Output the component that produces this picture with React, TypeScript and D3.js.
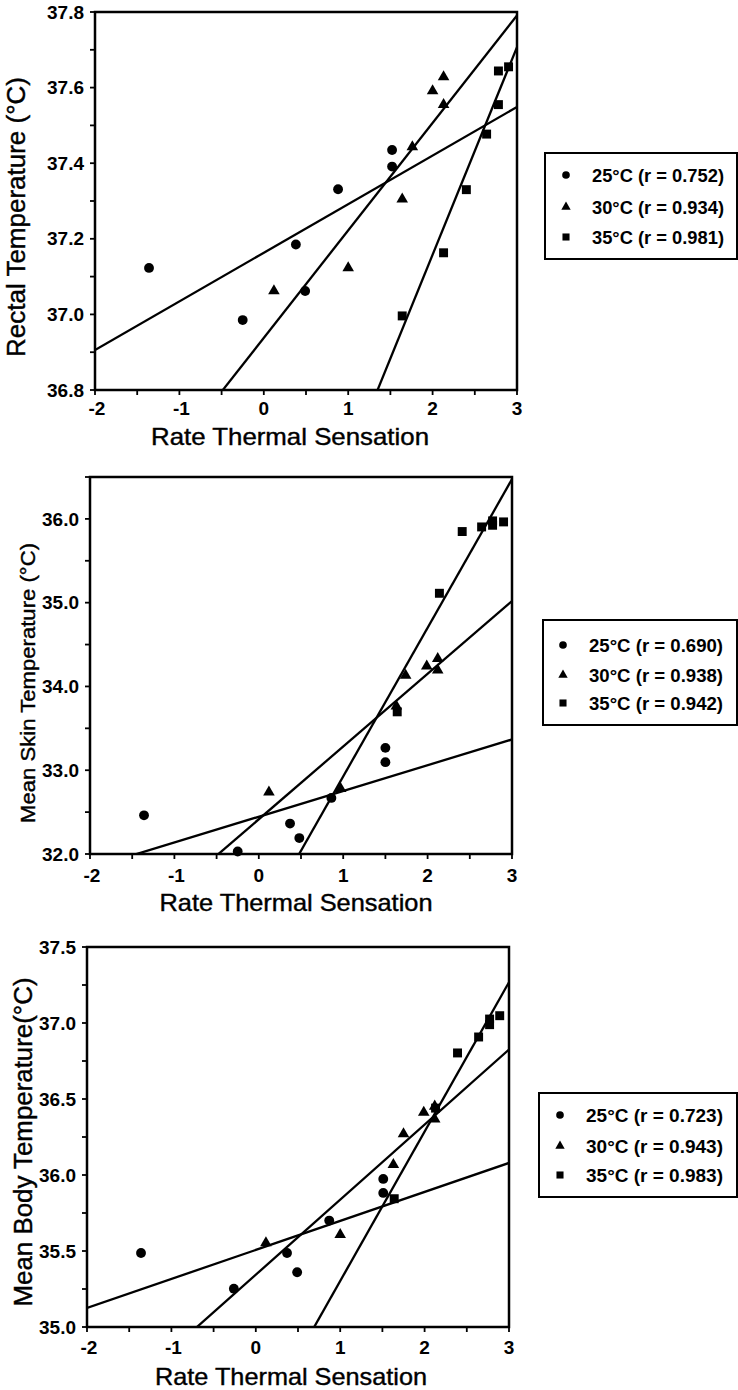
import React from 'react';
import * as d3 from 'd3';

type Pt = [number, number];

// ---------- data ----------
const xTickValues = [-2, -1, 0, 1, 2, 3];
const seriesLabels = ['25°C', '30°C', '35°C'];

// Panel 1: Rectal temperature
const rectal25: Pt[] = [[-1.36, 37.123], [-0.25, 36.985], [0.38, 37.185], [0.49, 37.062], [0.88, 37.331], [1.52, 37.435], [1.52, 37.391]];
const rectal30: Pt[] = [[0.12, 37.062], [1.0, 37.123], [1.64, 37.305], [1.76, 37.443], [2.0, 37.591], [2.13, 37.628], [2.13, 37.555]];
const rectal35: Pt[] = [[1.64, 36.996], [2.13, 37.163], [2.4, 37.33], [2.64, 37.477], [2.78, 37.555], [2.78, 37.644], [2.9, 37.655]];
const rectalFits: Pt[] = [[0.1286, 37.163], [0.2843, 36.938], [0.549, 36.06]]; // [slope, intercept]
const rectalR = ['0.752', '0.934', '0.981'];
const rectalYTicks = [36.8, 37.0, 37.2, 37.4, 37.6, 37.8];

// Panel 2: Mean skin temperature
const skin25: Pt[] = [[-1.36, 32.462], [-0.25, 32.03], [0.37, 32.363], [0.48, 32.19], [0.86, 32.669], [1.5, 33.267], [1.5, 33.096]];
const skin30: Pt[] = [[0.12, 32.737], [0.97, 32.78], [1.63, 33.765], [1.74, 34.131], [1.99, 34.243], [2.12, 34.331], [2.12, 34.195]];
const skin35: Pt[] = [[1.64, 33.697], [2.14, 35.112], [2.41, 35.849], [2.64, 35.904], [2.77, 35.976], [2.77, 35.924], [2.9, 35.964]];
const skinFits: Pt[] = [[0.3074, 32.445], [0.868, 32.415], [1.774, 31.152]];
const skinR = ['0.690', '0.938', '0.942'];
const skinYTicks = [32.0, 33.0, 34.0, 35.0, 36.0];

// Panel 3: Mean body temperature
const body25: Pt[] = [[-1.36, 35.487], [-0.26, 35.252], [0.37, 35.487], [0.49, 35.36], [0.87, 35.7], [1.51, 35.974], [1.51, 35.882]];
const body30: Pt[] = [[0.12, 35.553], [1.0, 35.607], [1.63, 36.068], [1.75, 36.27], [1.99, 36.412], [2.12, 36.452], [2.12, 36.368]];
const body35: Pt[] = [[1.64, 35.844], [2.13, 36.44], [2.39, 36.803], [2.64, 36.908], [2.77, 37.026], [2.77, 36.989], [2.89, 37.048]];
const bodyFits: Pt[] = [[0.1908, 35.507], [0.4938, 35.344], [0.9827, 34.32]];
const bodyR = ['0.723', '0.943', '0.983'];
const bodyYTicks = [35.0, 35.5, 36.0, 36.5, 37.0, 37.5];

// ---------- layout ----------
const FONT = '"Liberation Sans", Arial, Helvetica, sans-serif';

interface PanelCfg {
  id: string;
  series: Pt[][];
  fits: Pt[];
  rs: string[];
  yTicks: number[];
  yDomain: [number, number];
  yMinor: number;
  yTitle: string;
  left: number; right: number; top: number; bottom: number;
  yTitleX: number; yTitleY: number; yTitleSize: number; yTitleLen: number;
  xTitleX: number; xTitleY: number; xTitleLen: number;
  xLabelY: number;
  legend: { x: number; y: number; w: number; h: number; mx: number; tx: number; rows: number[]; tlen: number };
}

const panels: PanelCfg[] = [
  {
    id: 'p1', series: [rectal25, rectal30, rectal35], fits: rectalFits, rs: rectalR,
    yTicks: rectalYTicks, yDomain: [36.8, 37.8], yMinor: 0.1, yTitle: 'Rectal Temperature (°C)',
    left: 95, right: 517, top: 12, bottom: 390,
    yTitleX: 16, yTitleY: 217, yTitleSize: 25, yTitleLen: 280,
    xTitleX: 290, xTitleY: 437, xTitleLen: 278, xLabelY: 408,
    legend: { x: 545, y: 153, w: 192, h: 106, mx: 566, tx: 592, rows: [175, 207, 237], tlen: 132 },
  },
  {
    id: 'p2', series: [skin25, skin30, skin35], fits: skinFits, rs: skinR,
    yTicks: skinYTicks, yDomain: [32, 36.5], yMinor: 0.5, yTitle: 'Mean Skin Temperature  (°C)',
    left: 90, right: 512, top: 477, bottom: 854,
    yTitleX: 28, yTitleY: 683, yTitleSize: 21, yTitleLen: 280,
    xTitleX: 296, xTitleY: 903, xTitleLen: 273, xLabelY: 875,
    legend: { x: 543, y: 620, w: 194, h: 105, mx: 563, tx: 589, rows: [645, 675, 703], tlen: 134 },
  },
  {
    id: 'p3', series: [body25, body30, body35], fits: bodyFits, rs: bodyR,
    yTicks: bodyYTicks, yDomain: [35, 37.5], yMinor: 0.25, yTitle: 'Mean Body Temperature(°C)',
    left: 87, right: 509, top: 947, bottom: 1327,
    yTitleX: 23, yTitleY: 1142, yTitleSize: 25, yTitleLen: 329,
    xTitleX: 291, xTitleY: 1377, xTitleLen: 272, xLabelY: 1347,
    legend: { x: 539, y: 1093, w: 198, h: 104, mx: 560, tx: 586, rows: [1115, 1146, 1175], tlen: 137 },
  },
];

const symbolTypes = [d3.symbolCircle, d3.symbolTriangle, d3.symbolSquare];
const symbolSizes = [76, 58, 80];
const legendSizes = [46, 38, 50];
const fmt = d3.format('.1f');

function Panel({ p }: { p: PanelCfg }) {
  const x = d3.scaleLinear().domain([-2, 3]).range([p.left, p.right]);
  const y = d3.scaleLinear().domain(p.yDomain).range([p.bottom, p.top]);
  const line = d3.line<Pt>().x(d => x(d[0])).y(d => y(d[1]));
  const xMinor = d3.range(-2, 3.0001, 0.5);
  const yMinor = d3.range(p.yDomain[0], p.yDomain[1] + 1e-6, p.yMinor);
  const clip = `clip-${p.id}`;
  return (
    <g>
      <defs>
        <clipPath id={clip}>
          <rect x={p.left} y={p.top} width={p.right - p.left} height={p.bottom - p.top} />
        </clipPath>
      </defs>
      {/* regression lines */}
      <g clipPath={`url(#${clip})`}>
        {p.fits.map((f, i) => {
          const pts: Pt[] = [-2, 3].map(v => [v, f[1] + f[0] * v] as Pt);
          return <path key={i} d={line(pts) || ''} fill="none" stroke="#000" strokeWidth={2.3} />;
        })}
      </g>
      {/* points */}
      {p.series.map((s, si) => {
        const sym = d3.symbol().type(symbolTypes[si]).size(symbolSizes[si])() || '';
        return s.map((d, j) => (
          <path key={`${si}-${j}`} d={sym} transform={`translate(${x(d[0])},${y(d[1])})`} fill="#000" />
        ));
      })}
      {/* frame */}
      <rect x={p.left} y={p.top} width={p.right - p.left} height={p.bottom - p.top} fill="none" stroke="#000" strokeWidth={2.5} />
      {/* x ticks */}
      {xMinor.map((v, i) => (
        <line key={`xt${i}`} x1={x(v)} x2={x(v)} y1={p.bottom} y2={p.bottom + 5} stroke="#000" strokeWidth={1.8} />
      ))}
      {xTickValues.map(v => (
        <text key={`xl${v}`} x={x(v) + (v < 0 ? 2 : 0)} y={p.xLabelY} dy="0.35em" textAnchor="middle"
          fontFamily={FONT} fontWeight="bold" fontSize={19}>{v}</text>
      ))}
      {/* y ticks */}
      {yMinor.map((v, i) => (
        <line key={`yt${i}`} x1={p.left - 5} x2={p.left} y1={y(v)} y2={y(v)} stroke="#000" strokeWidth={1.8} />
      ))}
      {p.yTicks.map(v => (
        <text key={`yl${v}`} x={p.left - 11} y={y(v)} dy="0.35em" textAnchor="end"
          fontFamily={FONT} fontWeight="bold" fontSize={19}>{fmt(v)}</text>
      ))}
      {/* titles */}
      <text x={p.xTitleX} y={p.xTitleY} dy="0.35em" textAnchor="middle" fontFamily={FONT} fontSize={24}
        stroke="#000" strokeWidth={0.4}
        textLength={p.xTitleLen} lengthAdjust="spacingAndGlyphs">Rate Thermal Sensation</text>
      <text transform={`translate(${p.yTitleX},${p.yTitleY}) rotate(-90)`} dy="0.35em" textAnchor="middle"
        stroke="#000" strokeWidth={0.4}
        fontFamily={FONT} fontSize={p.yTitleSize} textLength={p.yTitleLen} lengthAdjust="spacingAndGlyphs">{p.yTitle}</text>
      {/* legend */}
      <rect x={p.legend.x} y={p.legend.y} width={p.legend.w} height={p.legend.h} fill="#fff" stroke="#000" strokeWidth={2} />
      {seriesLabels.map((lab, i) => {
        const sym = d3.symbol().type(symbolTypes[i]).size(legendSizes[i])() || '';
        return (
          <g key={`lg${i}`}>
            <path d={sym} transform={`translate(${p.legend.mx},${p.legend.rows[i]})`} fill="#000" />
            <text x={p.legend.tx} y={p.legend.rows[i]} dy="0.35em" fontFamily={FONT} fontWeight="bold" fontSize={19}
              textLength={p.legend.tlen} lengthAdjust="spacingAndGlyphs">{`${lab} (r = ${p.rs[i]})`}</text>
          </g>
        );
      })}
    </g>
  );
}

export default function App() {
  return (
    <svg width={738} height={1390} style={{ position: 'absolute', left: 0, top: 0, background: '#fff' }}>
      <rect width={738} height={1390} fill="#fff" />
      {panels.map(p => <Panel key={p.id} p={p} />)}
    </svg>
  );
}
